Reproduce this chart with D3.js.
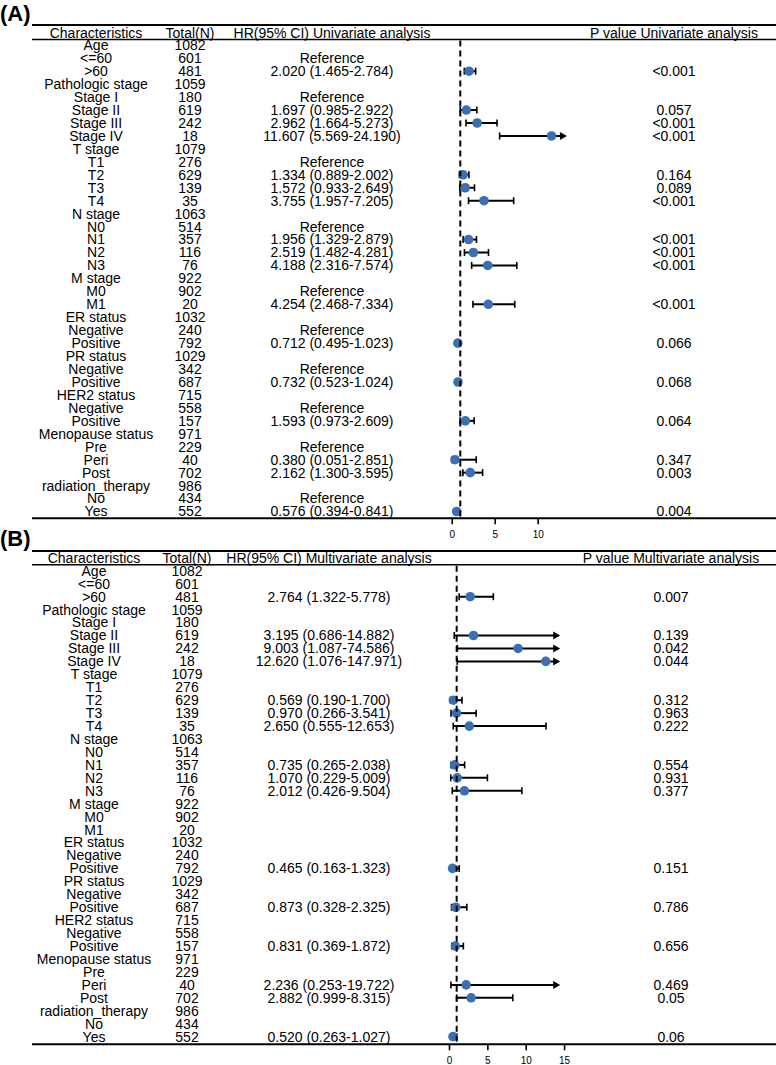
<!DOCTYPE html>
<html>
<head>
<meta charset="utf-8">
<script src="https://cdn.jsdelivr.net/npm/d3@7"></script>
<style>
  html, body { margin: 0; padding: 0; background: #fff; }
  svg { display: block; }
  text { font-family: "Liberation Sans", Arial, sans-serif; fill: #000; }
</style>
</head>
<body>
<svg id="chart" width="776" height="1065"></svg>
<script>
// ---------------- DATA ----------------
const characteristics = ["Age","<=60",">60","Pathologic stage","Stage I","Stage II","Stage III","Stage IV",
  "T stage","T1","T2","T3","T4","N stage","N0","N1","N2","N3","M stage","M0","M1",
  "ER status","Negative","Positive","PR status","Negative","Positive","HER2 status","Negative","Positive",
  "Menopause status","Pre","Peri","Post","radiation_therapy","No","Yes"];
const totalN = ["1082","601","481","1059","180","619","242","18","1079","276","629","139","35",
  "1063","514","357","116","76","922","902","20","1032","240","792","1029","342","687",
  "715","558","157","971","229","40","702","986","434","552"];

// Univariate (A)
const hrTextA = ["","Reference","2.020 (1.465-2.784)","","Reference","1.697 (0.985-2.922)","2.962 (1.664-5.273)","11.607 (5.569-24.190)",
  "","Reference","1.334 (0.889-2.002)","1.572 (0.933-2.649)","3.755 (1.957-7.205)",
  "","Reference","1.956 (1.329-2.879)","2.519 (1.482-4.281)","4.188 (2.316-7.574)",
  "","Reference","4.254 (2.468-7.334)","","Reference","0.712 (0.495-1.023)",
  "","Reference","0.732 (0.523-1.024)","","Reference","1.593 (0.973-2.609)",
  "","Reference","0.380 (0.051-2.851)","2.162 (1.300-3.595)","","Reference","0.576 (0.394-0.841)"];
const pTextA = ["","","<0.001","","","0.057","<0.001","<0.001","","","0.164","0.089","<0.001",
  "","","<0.001","<0.001","<0.001","","","<0.001","","","0.066","","","0.068","","","0.064",
  "","","0.347","0.003","","","0.004"];
const hrA   = [null,null,2.020,null,null,1.697,2.962,11.607,null,null,1.334,1.572,3.755,null,null,1.956,2.519,4.188,null,null,4.254,null,null,0.712,null,null,0.732,null,null,1.593,null,null,0.380,2.162,null,null,0.576];
const lowA  = [null,null,1.465,null,null,0.985,1.664,5.569,null,null,0.889,0.933,1.957,null,null,1.329,1.482,2.316,null,null,2.468,null,null,0.495,null,null,0.523,null,null,0.973,null,null,0.051,1.300,null,null,0.394];
const highA = [null,null,2.784,null,null,2.922,5.273,24.190,null,null,2.002,2.649,7.205,null,null,2.879,4.281,7.574,null,null,7.334,null,null,1.023,null,null,1.024,null,null,2.609,null,null,2.851,3.595,null,null,0.841];
const ticksA = [0, 5, 10];

// Multivariate (B)
const hrTextB = ["","","2.764 (1.322-5.778)","","","3.195 (0.686-14.882)","9.003 (1.087-74.586)","12.620 (1.076-147.971)",
  "","","0.569 (0.190-1.700)","0.970 (0.266-3.541)","2.650 (0.555-12.653)",
  "","","0.735 (0.265-2.038)","1.070 (0.229-5.009)","2.012 (0.426-9.504)",
  "","","","","","0.465 (0.163-1.323)","","","0.873 (0.328-2.325)","","","0.831 (0.369-1.872)",
  "","","2.236 (0.253-19.722)","2.882 (0.999-8.315)","","","0.520 (0.263-1.027)"];
const pTextB = ["","","0.007","","","0.139","0.042","0.044","","","0.312","0.963","0.222",
  "","","0.554","0.931","0.377","","","","","","0.151","","","0.786","","","0.656",
  "","","0.469","0.05","","","0.06"];
const hrB   = [null,null,2.764,null,null,3.195,9.003,12.620,null,null,0.569,0.970,2.650,null,null,0.735,1.070,2.012,null,null,null,null,null,0.465,null,null,0.873,null,null,0.831,null,null,2.236,2.882,null,null,0.520];
const lowB  = [null,null,1.322,null,null,0.686,1.087,1.076,null,null,0.190,0.266,0.555,null,null,0.265,0.229,0.426,null,null,null,null,null,0.163,null,null,0.328,null,null,0.369,null,null,0.253,0.999,null,null,0.263];
const highB = [null,null,5.778,null,null,14.882,74.586,147.971,null,null,1.700,3.541,12.653,null,null,2.038,5.009,9.504,null,null,null,null,null,1.323,null,null,2.325,null,null,1.872,null,null,19.722,8.315,null,null,1.027];
const ticksB = [0, 5, 10, 15];

const headersA = ["Characteristics","Total(N)","HR(95% CI) Univariate analysis","P value Univariate analysis"];
const headersB = ["Characteristics","Total(N)","HR(95% CI) Multivariate analysis","P value Multivariate analysis"];

// ---------------- LAYOUT ----------------
const svg = d3.select("#chart");
const FONT = 14;
const POINT_COLOR = "#3B6FB0";

const panels = [
  { tag: "(A)", tagY: 21, headers: headersA, hrText: hrTextA, pText: pTextA, hr: hrA, low: lowA, high: highA, ticks: ticksA,
    ruleTop: 25, headerBase: 38, ruleHead: 39.5, row0: 45.3, rowH: 12.95, bottom: 518.3,
    cols: [96, 190, 332, 674], x0: 451.7, x10: 537.7, clip: 13.4, tickLabelY: 537.7 },
  { tag: "(B)", tagY: 546, headers: headersB, hrText: hrTextB, pText: pTextB, hr: hrB, low: lowB, high: highB, ticks: ticksB,
    ruleTop: 551, headerBase: 563.3, ruleHead: 564.8, row0: 570.8, rowH: 12.94, bottom: 1044.3,
    cols: [94, 187, 329, 671], x0: 449, x10: 525.7, clip: 14.5, tickLabelY: 1063.8 }
];

panels.forEach(p => {
  const g = svg.append("g");
  const x = d3.scaleLinear().domain([0, 10]).range([p.x0, p.x10]);
  const y = d3.scaleLinear().domain([0, 1]).range([p.row0, p.row0 + p.rowH]);

  // panel tag
  g.append("text").attr("x", 0).attr("y", p.tagY)
    .attr("font-size", 22).attr("font-weight", "bold").text(p.tag);

  // rules
  g.append("line").attr("x1", 32).attr("x2", 776).attr("y1", p.ruleTop).attr("y2", p.ruleTop)
    .attr("stroke", "#000").attr("stroke-width", 2);
  g.append("line").attr("x1", 32).attr("x2", 776).attr("y1", p.ruleHead).attr("y2", p.ruleHead)
    .attr("stroke", "#000").attr("stroke-width", 1.6);
  g.append("line").attr("x1", 32).attr("x2", 776).attr("y1", p.bottom).attr("y2", p.bottom)
    .attr("stroke", "#000").attr("stroke-width", 2);

  // headers
  g.selectAll("text.hdr").data(p.headers).join("text").attr("class", "hdr")
    .attr("x", (d, i) => p.cols[i]).attr("y", p.headerBase)
    .attr("text-anchor", "middle").attr("font-size", FONT).text(d => d);

  // table columns
  const colsData = [characteristics, totalN, p.hrText, p.pText];
  colsData.forEach((arr, ci) => {
    g.append("g").selectAll("text").data(arr).join("text")
      .attr("x", p.cols[ci]).attr("y", (d, i) => y(i)).attr("dy", "0.35em")
      .attr("text-anchor", "middle").attr("font-size", FONT).text(d => d);
  });

  // CI lines
  const rows = p.hr.map((v, i) => ({ i, v, lo: p.low[i], hi: p.high[i] })).filter(d => d.v != null);
  const ci = g.append("g");
  rows.forEach(d => {
    const yy = y(d.i);
    const clipped = d.hi > p.clip;
    const xl = x(d.lo);
    const xr = clipped ? x(p.clip) - 5 : x(d.hi);
    ci.append("line").attr("x1", xl).attr("x2", xr).attr("y1", yy).attr("y2", yy)
      .attr("stroke", "#000").attr("stroke-width", 2);
    ci.append("line").attr("x1", xl).attr("x2", xl).attr("y1", yy - 3.5).attr("y2", yy + 3.5)
      .attr("stroke", "#000").attr("stroke-width", 1.6);
    if (clipped) {
      const tip = x(p.clip);
      ci.append("path").attr("d", `M${tip},${yy} L${tip - 7},${yy - 4} L${tip - 7},${yy + 4} Z`).attr("fill", "#000");
    } else {
      ci.append("line").attr("x1", xr).attr("x2", xr).attr("y1", yy - 3.5).attr("y2", yy + 3.5)
        .attr("stroke", "#000").attr("stroke-width", 1.6);
    }
  });

  // points
  g.append("g").selectAll("circle").data(rows).join("circle")
    .attr("cx", d => x(d.v)).attr("cy", d => y(d.i)).attr("r", 4.8).attr("fill", POINT_COLOR);

  // reference line at HR = 1
  g.append("line").attr("x1", x(1)).attr("x2", x(1)).attr("y1", p.ruleHead + 1).attr("y2", p.bottom)
    .attr("stroke", "#000").attr("stroke-width", 2).attr("stroke-dasharray", "6,4");

  // axis
  const axis = d3.axisBottom(x).tickValues(p.ticks).tickSize(6).tickPadding(5).tickFormat(d3.format("d"));
  const ag = g.append("g").attr("transform", `translate(0,${p.bottom})`).call(axis);
  ag.select(".domain").remove();
  ag.selectAll(".tick line").attr("stroke-width", 1.6);
  ag.selectAll(".tick text").attr("font-size", 10).attr("font-family", "Liberation Sans, Arial, sans-serif")
    .attr("y", p.tickLabelY - p.bottom).attr("dy", "0");
});
</script>
</body>
</html>
